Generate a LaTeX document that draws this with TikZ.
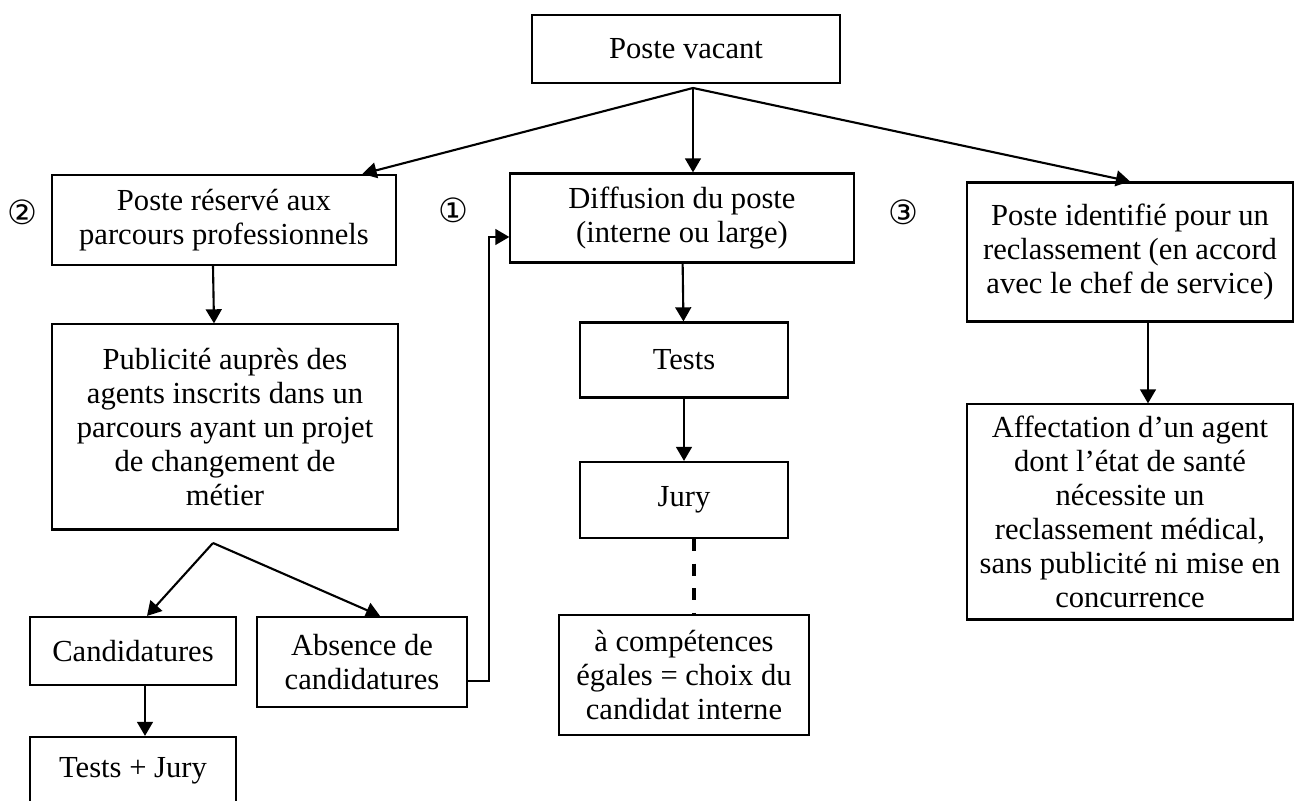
\documentclass[tikz,border=0pt]{standalone}
\usepackage{fontspec}
\setmainfont{Liberation Serif}
\newfontfamily\numfont{DejaVu Sans}
\usepackage{tikz}
\usetikzlibrary{
    arrows.meta,
    calc,
    positioning
}
\newcommand{\flowfont}{\fontsize{8.7pt}{9.7pt}\selectfont}
\tikzset{
    box/.style={draw, line width=0.6pt, align=center, inner sep=0pt, font=\flowfont},
    flow/.style={-{Triangle[length=4pt,width=4.5pt]}, line width=0.6pt},
    guess/.style={line width=0.9pt, dash pattern=on 3.4pt off 3.6pt},
    circnum/.style={font=\numfont\fontsize{9.5pt}{10pt}\selectfont}
}

\begin{document}
\begin{tikzpicture}[x=0.01cm, y=-0.01cm]
    \useasboundingbox (0,0) rectangle (1299,801);
    \node[box, minimum width=3.07cm, minimum height=0.68cm] (vacant) at (686,49) {Poste vacant};
    \node[box, minimum width=3.44cm, minimum height=0.90cm] (reserve) at (224,220)
        {Poste réservé aux\\parcours professionnels};
    \node[box, minimum width=3.43cm, minimum height=0.89cm] (diffusion) at (682,218)
        {Diffusion du poste\\(interne ou large)};
    \node[box, minimum width=3.25cm, minimum height=1.39cm] (identifie) at (1130,252)
        {Poste identifié pour un\\reclassement (en accord\\avec le chef de service)};
    \node[box, minimum width=3.45cm, minimum height=2.05cm] (publicite) at (225,427)
        {Publicité auprès des\\agents inscrits dans un\\parcours ayant un projet\\de changement de\\métier};
    \node[box, minimum width=2.08cm, minimum height=0.75cm] (tests) at (684,360) {Tests};
    \node[box, minimum width=2.08cm, minimum height=0.76cm] (jury) at (684,500) {Jury};
    \node[box, minimum width=2.50cm, minimum height=1.20cm] (egal) at (684,675)
        {à compétences\\égales = choix du\\candidat interne};
    \node[box, minimum width=3.25cm, minimum height=2.15cm] (affect) at (1130,512)
        {Affectation d’un agent\\dont l’état de santé\\nécessite un\\reclassement médical,\\sans publicité ni mise en\\concurrence};
    \node[box, minimum width=2.06cm, minimum height=0.68cm] (cand) at (133,651) {Candidatures};
    \node[box, minimum width=2.09cm, minimum height=0.90cm] (absence) at (362,662)
        {Absence de\\candidatures};
    \node[box, minimum width=2.06cm, minimum height=0.68cm] (testsjury) at (133,771) {Tests + Jury};

    \node[circnum] (num2) at (22,212) {②};
    \node[circnum] (num1) at (453,210) {①};
    \node[circnum] (num3) at (903,212) {③};

    \coordinate (fork) at (693,88);
    \coordinate (split) at (213,543);
    \draw[flow] (fork) -- ($(reserve.north)!0.8!(reserve.north east)$);
    \draw[flow] (fork) -- (fork |- diffusion.north);
    \draw[flow] (fork) -- (identifie.north);
    \draw[flow] ($(reserve.south)+(-11,0)$) -- ($(publicite.north)+(-11,0)$);
    \draw[flow] (split) -- ($(cand.north)+(14,0)$);
    \draw[flow] (split) -- ($(absence.north)+(18,0)$);
    \draw[flow] ($(cand.south)+(12,0)$) -- ($(testsjury.north)+(12,0)$);
    \draw[flow] ($(absence.east)+(0,19)$) -- ++(21,0) |- ($(diffusion.west)+(0,19)$);
    \draw[flow] (diffusion) -- (tests);
    \draw[flow] (tests) -- (jury);
    \draw[guess] ($(jury.south)+(10,0)$) -- ($(egal.north)+(10,0)$);
    \draw[flow] ($(identifie.south)+(18,0)$) -- ($(affect.north)+(18,0)$);
\end{tikzpicture}
\end{document}
